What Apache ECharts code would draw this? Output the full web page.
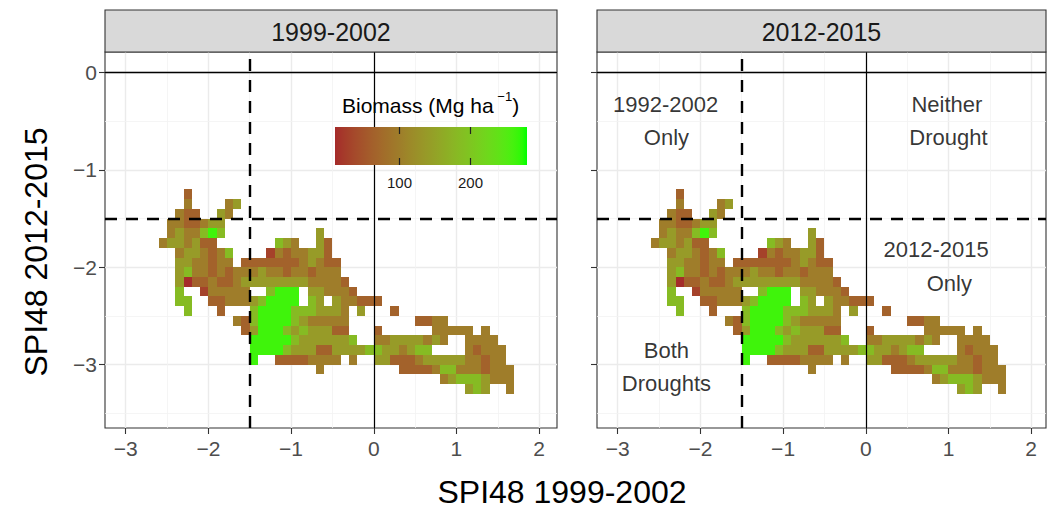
<!DOCTYPE html>
<html>
<head>
<meta charset="utf-8">
<script src="https://cdn.jsdelivr.net/npm/echarts@6.0.0/dist/echarts.min.js"></script>
<style>
  html, body { margin: 0; padding: 0; background: #ffffff; }
  #chart { width: 1047px; height: 512px; }
</style>
</head>
<body>
<div id="chart"></div>
<script>
// ---- data -------------------------------------------------------------
const _ = null;

// SPI48 1999-2002 (x) cell centres, 0.1 wide
const spiX = [-2.55, -2.45, -2.35, -2.25, -2.15, -2.05, -1.95, -1.85, -1.75, -1.65,
              -1.55, -1.45, -1.35, -1.25, -1.15, -1.05, -0.95, -0.85, -0.75, -0.65,
              -0.55, -0.45, -0.35, -0.25, -0.15, -0.05, 0.05, 0.15, 0.25, 0.35,
              0.45, 0.55, 0.65, 0.75, 0.85, 0.95, 1.05, 1.15, 1.25, 1.35,
              1.45, 1.55, 1.65];

// SPI48 2012-2015 (y) cell centres, 0.1 tall
const spiY = [-1.25, -1.35, -1.45, -1.55, -1.65, -1.75, -1.85, -1.95, -2.05, -2.15,
              -2.25, -2.35, -2.45, -2.55, -2.65, -2.75, -2.85, -2.95, -3.05, -3.15, -3.25];

// Biomass (Mg/ha) per row of cells, one value per spiX column (null = no cell)
const bm125 = [_,_,_,65];
const bm135 = [_,_,_,100,_,_,_,_,100,140];
const bm145 = [_,_,100,65,65,_,_,140,100];
const bm155 = [_,100,100,65,65,100,140,140];
const bm165 = [_,100,140,100,100,185,265,185,_,_,
               _,_,_,_,_,_,_,_,_,140];
const bm175 = [100,140,140,100,140,65,65,_,_,_,
               _,_,_,_,185,140,100,_,_,140,
               65];
const bm185 = [_,_,100,140,140,100,65,100,185,_,
               _,_,_,30,100,65,100,100,140,140,
               65];
const bm195 = [_,_,140,140,100,100,65,100,100,_,
               65,65,65,65,65,65,65,100,140,100,
               65,65];
const bm205 = [_,_,140,185,100,100,65,100,65,100,
               100,100,140,100,100,65,100,100,65,100,
               100,100];
const bm215 = [_,_,140,12,65,65,100,65,65,100,
               140,140,140,140,140,140,140,140,100,100,
               100,100,65];
const bm225 = [_,_,185,_,_,30,100,100,100,100,
               100,_,_,185,265,265,265,_,140,140,
               100,100,100,65];
const bm235 = [_,_,185,185,_,_,65,65,100,100,
               100,140,185,265,265,265,265,_,185,140,
               _,140,100,100,65,65,65];
const bm245 = [_,_,_,185,_,_,_,65,_,_,
               _,185,265,265,265,265,185,185,185,140,
               140,140,100,_,140,_,_,_,65];
const bm255 = [_,_,_,_,_,_,_,_,_,100,
               65,185,265,265,265,265,185,140,100,100,
               100,100,100,_,_,_,_,_,_,_,
               _,65,65,100,100];
const bm265 = [_,_,_,_,_,_,_,_,_,_,
               65,140,265,265,265,185,140,185,140,140,
               140,65,65,_,_,_,65,_,_,_,
               _,_,_,100,100,100,100,100,_,100];
const bm275 = [_,_,_,_,_,_,_,_,_,_,
               _,265,265,265,265,265,185,140,140,140,
               140,140,140,185,_,_,100,100,140,140,
               140,140,100,140,100,_,_,100,100,100,
               100];
const bm285 = [_,_,_,_,_,_,_,_,_,_,
               _,265,265,265,265,185,140,140,140,65,
               65,140,140,140,140,185,185,140,140,100,
               140,185,185,_,_,_,_,100,65,100,
               100,100];
const bm295 = [_,_,_,_,_,_,_,_,_,_,
               _,265,_,_,65,65,65,65,100,100,
               100,100,_,100,_,_,140,140,65,65,
               65,100,140,140,140,140,140,100,100,65,
               100,100];
const bm305 = [_,_,_,_,_,_,_,_,_,_,
               _,_,_,_,_,_,_,_,_,100,
               _,_,_,_,_,_,_,_,_,65,
               65,65,65,100,185,185,100,100,100,65,
               100,100,100];
const bm315 = [_,_,_,_,_,_,_,_,_,_,
               _,_,_,_,_,_,_,_,_,_,
               _,_,_,_,_,_,_,_,_,_,
               _,_,_,_,100,140,185,185,185,140,
               100,100,100];
const bm325 = [_,_,_,_,_,_,_,_,_,_,
               _,_,_,_,_,_,_,_,_,_,
               _,_,_,_,_,_,_,_,_,_,
               _,_,_,_,_,_,_,140,185,140,
               _,_,100];

const biomassRows = [bm125, bm135, bm145, bm155, bm165, bm175, bm185, bm195, bm205, bm215,
                     bm225, bm235, bm245, bm255, bm265, bm275, bm285, bm295, bm305, bm315, bm325];

const periods = ['1999-2002', '2012-2015'];
const xTicks = [-3, -2, -1, 0, 1, 2];
const yTicks = [0, -1, -2, -3];
const xMinor = [-2.5, -1.5, -0.5, 0.5, 1.5];
const yMinor = [-0.5, -1.5, -2.5, -3.5];
const droughtThreshold = -1.5;
const biomassRange = [9.5, 281];
const legendTicks = [100, 200];
const quadrantNotes = [
  { x: -2.42, y: -0.33, text: '1992-2002' },
  { x: -2.41, y: -0.67, text: 'Only' },
  { x: 0.98,  y: -0.33, text: 'Neither' },
  { x: 1.0,   y: -0.67, text: 'Drought' },
  { x: 0.85,  y: -1.82, text: '2012-2015' },
  { x: 1.01,  y: -2.17, text: 'Only' },
  { x: -2.41, y: -2.85, text: 'Both' },
  { x: -2.41, y: -3.19, text: 'Droughts' }
];

// ---- colour ramp: brown -> green interpolated in CIELAB ----------------
const LOW = '#A52A2A', HIGH = '#00FF00';
const WX = 0.95047, WY = 1.0, WZ = 1.08883;
function toLin(c) { c /= 255; return c <= 0.04045 ? c / 12.92 : Math.pow((c + 0.055) / 1.055, 2.4); }
function toSrgb(c) {
  c = c <= 0.0031308 ? 12.92 * c : 1.055 * Math.pow(c, 1 / 2.4) - 0.055;
  return Math.max(0, Math.min(255, Math.round(c * 255)));
}
function fLab(t) { return t > 0.008856 ? Math.cbrt(t) : 7.787 * t + 16 / 116; }
function fInv(t) { return t > 0.206893 ? t * t * t : (t - 16 / 116) / 7.787; }
function hexToLab(hex) {
  const r = toLin(parseInt(hex.slice(1, 3), 16));
  const g = toLin(parseInt(hex.slice(3, 5), 16));
  const b = toLin(parseInt(hex.slice(5, 7), 16));
  const X = (0.4124 * r + 0.3576 * g + 0.1805 * b) / WX;
  const Y = (0.2126 * r + 0.7152 * g + 0.0722 * b) / WY;
  const Z = (0.0193 * r + 0.1192 * g + 0.9505 * b) / WZ;
  const fx = fLab(X), fy = fLab(Y), fz = fLab(Z);
  return [116 * fy - 16, 500 * (fx - fy), 200 * (fy - fz)];
}
function labToRgb(L, a, b) {
  const fy = (L + 16) / 116, fx = fy + a / 500, fz = fy - b / 200;
  const X = WX * fInv(fx), Y = WY * fInv(fy), Z = WZ * fInv(fz);
  const r = 3.2406 * X - 1.5372 * Y - 0.4986 * Z;
  const g = -0.9689 * X + 1.8758 * Y + 0.0415 * Z;
  const bl = 0.0557 * X - 0.2040 * Y + 1.0570 * Z;
  return 'rgb(' + toSrgb(r) + ',' + toSrgb(g) + ',' + toSrgb(bl) + ')';
}
const labLow = hexToLab(LOW), labHigh = hexToLab(HIGH);
const RAMP_STEPS = 40;
const ramp = [];
for (let i = 0; i <= RAMP_STEPS; i++) {
  const t = i / RAMP_STEPS;
  ramp.push(labToRgb(labLow[0] + t * (labHigh[0] - labLow[0]),
                     labLow[1] + t * (labHigh[1] - labLow[1]),
                     labLow[2] + t * (labHigh[2] - labLow[2])));
}

// ---- layout -------------------------------------------------------------
const FONT = '"Liberation Sans", Arial, Helvetica, sans-serif';
const STRIP_TOP = 10, PANEL_TOP = 52, PANEL_H = 376;
const panels = [
  { left: 105, width: 452, xMax: 2.216 },
  { left: 597, width: 449, xMax: 2.179 }
];
const X_MIN = -3.25;
const Y_RANGE = [-3.65, 0.21];
const CELL_HALF = 0.05;
const fmtTick = v => (v < 0 ? '\u2212' + Math.abs(v) : String(v));

// tiles as [x, y, biomass]
const tiles = [];
biomassRows.forEach((row, r) => {
  row.forEach((v, c) => { if (v != null) tiles.push([spiX[c], spiY[r], v]); });
});

function renderTile(params, api) {
  const x = api.value(0), y = api.value(1);
  const p0 = api.coord([x - CELL_HALF, y + CELL_HALF]);
  const p1 = api.coord([x + CELL_HALF, y - CELL_HALF]);
  const x0 = Math.round(p0[0]), y0 = Math.round(p0[1]);
  const x1 = Math.round(p1[0]), y1 = Math.round(p1[1]);
  return {
    type: 'rect',
    shape: { x: x0, y: y0, width: x1 - x0, height: y1 - y0 },
    style: { fill: api.visual('color') }
  };
}

const series = [];
const tileSeriesIdx = [];
panels.forEach((p, i) => {
  // background grid
  const gridLines = [];
  xTicks.forEach(v => gridLines.push({ xAxis: v, lineStyle: { color: '#EBEBEB', width: 1.4, type: 'solid' } }));
  yTicks.forEach(v => gridLines.push({ yAxis: v, lineStyle: { color: '#EBEBEB', width: 1.4, type: 'solid' } }));
  xMinor.forEach(v => gridLines.push({ xAxis: v, lineStyle: { color: '#F2F2F2', width: 0.8, type: 'solid' } }));
  yMinor.forEach(v => gridLines.push({ yAxis: v, lineStyle: { color: '#F2F2F2', width: 0.8, type: 'solid' } }));
  series.push({
    type: 'line', xAxisIndex: i, yAxisIndex: i, data: [], z: 1, silent: true,
    markLine: { z: 1, silent: true, symbol: ['none', 'none'], label: { show: false },
                animation: false, emphasis: { disabled: true }, data: gridLines }
  });

  // biomass tiles
  tileSeriesIdx.push(series.length);
  series.push({
    type: 'custom', xAxisIndex: i, yAxisIndex: i, z: 3, silent: true,
    renderItem: renderTile,
    dimensions: ['spi1999', 'spi2012', 'biomass'],
    encode: { x: 0, y: 1 },
    data: tiles
  });

  // zero lines and drought thresholds
  series.push({
    type: 'line', xAxisIndex: i, yAxisIndex: i, data: [], z: 6, silent: true,
    markLine: {
      z: 6, silent: true, symbol: ['none', 'none'], label: { show: false },
      animation: false, emphasis: { disabled: true },
      data: [
        { xAxis: 0, lineStyle: { color: '#000000', width: 1.2, type: 'solid' } },
        { yAxis: 0, lineStyle: { color: '#000000', width: 1.4, type: 'solid' } },
        { xAxis: droughtThreshold, lineStyle: { color: '#000000', width: 2.4, type: [12, 9] } },
        { yAxis: droughtThreshold, lineStyle: { color: '#000000', width: 2.4, type: [12, 9] } }
      ]
    }
  });
});

// quadrant labels on the second panel
series.push({
  type: 'scatter', xAxisIndex: 1, yAxisIndex: 1, z: 7, silent: true,
  symbolSize: 0,
  data: quadrantNotes.map(d => [d.x, d.y, d.text]),
  label: {
    show: true, position: 'inside', formatter: q => q.data[2],
    color: '#000000', fontSize: 22, fontFamily: FONT, align: 'center', verticalAlign: 'middle'
  }
});

// colour bar legend (drawn above the panel grid and reference lines)
const LEGEND_Z = 30;
const BAR = { x: 335, y: 127, w: 192, h: 38 };
const legendX = v => BAR.x + (v - biomassRange[0]) / (biomassRange[1] - biomassRange[0]) * BAR.w;
const legendEls = [
  {
    type: 'text', z: LEGEND_Z, x: 342, y: 103,
    style: {
      text: '{t|Biomass (Mg ha}{s| \u22121}{t|)}',
      verticalAlign: 'middle', align: 'left',
      rich: {
        t: { fontSize: 21, fontFamily: FONT, fill: '#000000', lineHeight: 26, verticalAlign: 'bottom' },
        s: { fontSize: 13, fontFamily: FONT, fill: '#000000', lineHeight: 14, verticalAlign: 'top' }
      }
    }
  },
  {
    type: 'rect', z: LEGEND_Z, shape: { x: BAR.x, y: BAR.y, width: BAR.w, height: BAR.h },
    style: {
      fill: {
        type: 'linear', x: 0, y: 0, x2: 1, y2: 0,
        colorStops: ramp.map((c, k) => ({ offset: k / RAMP_STEPS, color: c }))
      }
    }
  }
];
legendTicks.forEach(v => {
  const lx = Math.round(legendX(v)) + 0.5;
  legendEls.push({ type: 'line', z: LEGEND_Z + 1, shape: { x1: lx, y1: BAR.y, x2: lx, y2: BAR.y + 7 }, style: { stroke: '#222222', lineWidth: 1.2 } });
  legendEls.push({ type: 'line', z: LEGEND_Z + 1, shape: { x1: lx, y1: BAR.y + BAR.h - 7, x2: lx, y2: BAR.y + BAR.h }, style: { stroke: '#222222', lineWidth: 1.2 } });
  legendEls.push({
    type: 'text', z: LEGEND_Z, x: lx, y: BAR.y + BAR.h + 17,
    style: { text: String(v), fontSize: 15, fontFamily: FONT, fill: '#1A1A1A', align: 'center', verticalAlign: 'middle' }
  });
});

const graphic = [];
panels.forEach((p, i) => {
  graphic.push({
    type: 'rect', z: 10,
    shape: { x: p.left, y: STRIP_TOP, width: p.width, height: PANEL_TOP - STRIP_TOP },
    style: { fill: '#D9D9D9', stroke: '#333333', lineWidth: 1.1 }
  });
  graphic.push({
    type: 'text', z: 11, x: p.left + p.width / 2, y: (STRIP_TOP + PANEL_TOP) / 2 + 1,
    style: { text: periods[i], fontSize: 25, fontFamily: FONT, fill: '#1A1A1A', align: 'center', verticalAlign: 'middle' }
  });
});
graphic.push({
  type: 'text', z: 11, x: 562, y: 492,
  style: { text: 'SPI48 1999-2002', fontSize: 32, fontFamily: FONT, fill: '#000000', align: 'center', verticalAlign: 'middle' }
});
graphic.push({
  type: 'text', z: 11, x: 36, y: 252, rotation: Math.PI / 2,
  style: { text: 'SPI48 2012-2015', fontSize: 32, fontFamily: FONT, fill: '#000000', align: 'center', verticalAlign: 'middle' }
});
legendEls.forEach(el => graphic.push(el));

const option = {
  animation: false,
  backgroundColor: '#ffffff',
  grid: panels.map(p => ({
    left: p.left, top: PANEL_TOP, width: p.width, height: PANEL_H,
    show: true, borderColor: '#333333', borderWidth: 1.1, backgroundColor: '#ffffff'
  })),
  xAxis: panels.map((p, i) => ({
    type: 'value', gridIndex: i, min: X_MIN, max: p.xMax,
    axisLine: { show: false, onZero: false },
    splitLine: { show: false },
    axisTick: { show: true, customValues: xTicks, length: 6, lineStyle: { color: '#333333', width: 1.1 } },
    axisLabel: { show: true, customValues: xTicks, formatter: fmtTick, color: '#4D4D4D', fontSize: 21, fontFamily: FONT, margin: 10 }
  })),
  yAxis: panels.map((p, i) => ({
    type: 'value', gridIndex: i, min: Y_RANGE[0], max: Y_RANGE[1],
    axisLine: { show: false, onZero: false },
    splitLine: { show: false },
    axisTick: { show: true, customValues: yTicks, length: 6, lineStyle: { color: '#333333', width: 1.1 } },
    axisLabel: { show: i === 0, customValues: yTicks, formatter: fmtTick, color: '#4D4D4D', fontSize: 21, fontFamily: FONT, margin: 8 }
  })),
  visualMap: {
    type: 'continuous', show: false, dimension: 2,
    min: biomassRange[0], max: biomassRange[1],
    seriesIndex: tileSeriesIdx,
    inRange: { color: ramp }
  },
  series: series,
  graphic: graphic
};

const chart = echarts.init(document.getElementById('chart'), null, { renderer: 'svg' });
chart.setOption(option);
</script>
</body>
</html>
